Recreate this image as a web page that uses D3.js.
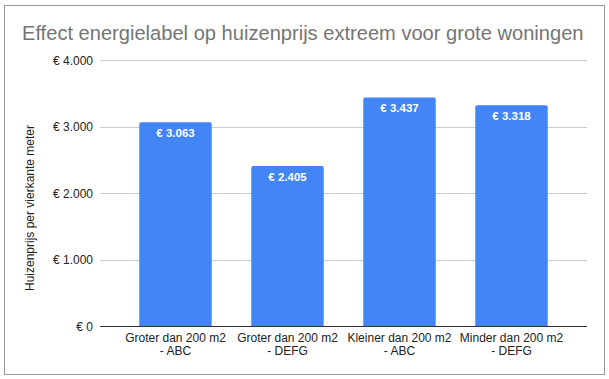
<!DOCTYPE html>
<html><head><meta charset="utf-8">
<script src="https://cdn.jsdelivr.net/npm/d3@7"></script>
<style>body{margin:0;background:#fff}svg{display:block}text{font-family:"Liberation Sans",Arial,sans-serif}</style>
</head><body>
<script>
const title = "Effect energielabel op huizenprijs extreem voor grote woningen";
const yTitle = "Huizenprijs per vierkante meter";
const categories = ["Groter dan 200 m2|- ABC", "Groter dan 200 m2|- DEFG", "Kleiner dan 200 m2|- ABC", "Minder dan 200 m2|- DEFG"];
const values = [3063, 2405, 3437, 3318];
const yTicks = [0, 1000, 2000, 3000, 4000];

const W = 609, H = 379;
const fmt = v => "€ " + d3.format(",")(v).replace(/,/g, ".");
const svg = d3.select("body").append("svg").attr("width", W).attr("height", H);
svg.append("rect").attr("x", 4.5).attr("y", 5.5).attr("width", 600).attr("height", 369)
  .attr("fill", "#fff").attr("stroke", "#9a9a9a").attr("stroke-width", 1);

svg.append("text").attr("x", 22).attr("y", 40).attr("font-size", 20.1).attr("fill", "#757575").text(title);

const y = d3.scaleLinear().domain([0, 4000]).range([326, 60]);
const x = d3.scaleBand().domain(categories).range([119.5, 567.5]).paddingInner(0.353).paddingOuter(0.1765);
const gridX0 = 100, gridX1 = 587;

const g = svg.append("g");
g.selectAll("line.grid").data(yTicks.filter(d => d > 0)).join("line")
  .attr("x1", gridX0).attr("x2", gridX1)
  .attr("y1", d => Math.round(y(d)) + 0.5).attr("y2", d => Math.round(y(d)) + 0.5)
  .attr("stroke", "#cccccc");
g.selectAll("text.tick").data(yTicks).join("text")
  .attr("x", 93).attr("y", d => y(d) + 4.5).attr("text-anchor", "end")
  .attr("font-size", 12).attr("fill", "#222").text(fmt);

svg.append("text").attr("transform", "translate(34,208) rotate(-90)").attr("text-anchor", "middle")
  .attr("font-size", 12).attr("fill", "#222").text(yTitle);

const bars = svg.append("g");
bars.selectAll("path").data(values).join("path")
  .attr("fill", "#4285f4")
  .attr("d", (d, i) => {
    const x0 = x(categories[i]), w = x.bandwidth(), y0 = y(d), y1 = y(0), r = 2;
    return `M${x0},${y1}V${y0 + r}Q${x0},${y0} ${x0 + r},${y0}H${x0 + w - r}Q${x0 + w},${y0} ${x0 + w},${y0 + r}V${y1}Z`;
  });

bars.selectAll("text").data(values).join("text")
  .attr("x", (d, i) => x(categories[i]) + x.bandwidth() / 2)
  .attr("y", d => y(d) + 15).attr("text-anchor", "middle")
  .attr("font-size", 11.5).attr("font-weight", "bold").attr("fill", "#fff").text(fmt);

svg.append("line").attr("x1", gridX0).attr("x2", gridX1).attr("y1", 326.5).attr("y2", 326.5)
  .attr("stroke", "#333").attr("stroke-width", 1);

const labels = svg.append("g");
categories.forEach(c => {
  const parts = c.split("|");
  const t = labels.append("text").attr("text-anchor", "middle").attr("font-size", 12).attr("fill", "#222");
  parts.forEach((p, j) => t.append("tspan").attr("x", x(c) + x.bandwidth() / 2).attr("y", 341.5 + j * 13).text(p));
});
</script>
</body></html>
